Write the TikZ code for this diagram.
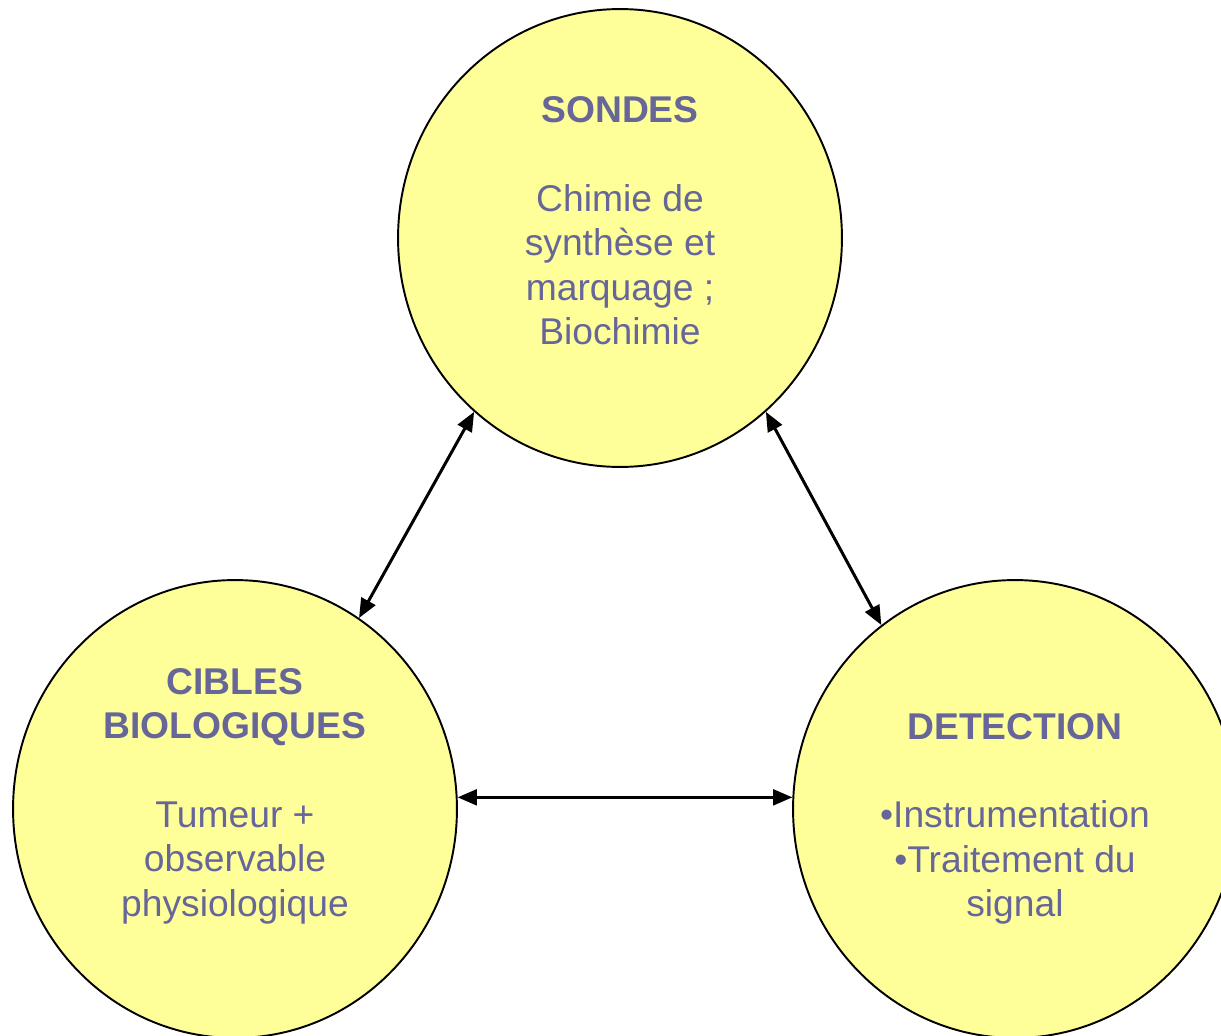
\documentclass[tikz,border=0pt]{standalone}
\usepackage{fontspec}
\setmainfont{Liberation Sans}
\usepackage{xcolor}
\usepackage{tikz}
\usetikzlibrary{positioning}
\usetikzlibrary{arrows.meta,shapes.geometric}
\definecolor{polefill}{HTML}{FFFF99}
\definecolor{poletext}{HTML}{666699}

\begin{document}
\begin{tikzpicture}[x=0.02cm,y=-0.02cm,<->,>={Triangle[length=11pt,width=9pt]},
                    line width=1.7pt,
                    pole/.style={ellipse,draw,fill=polefill,line width=1.1pt,
                                 minimum width=8.88cm,minimum height=9.16cm,inner sep=0pt},
                    poletxt/.style={text=poletext,align=center,
                                    font=\fontsize{21.2}{25.3}\selectfont}]
\clip (0,0) rectangle (1221,1035);
\node[pole] (sondes) at (620,238) {};
\node[pole] (cibles) at (235,809) {};
\node[pole] (detection) at (1015,809) {};
\node[poletxt] (sondestxt) at (620,221)
  {\textbf{SONDES}\\[25pt]Chimie de\\synthèse et\\marquage ;\\Biochimie};
\node[poletxt] (ciblestxt) at (235,796)
  {\textbf{CIBLES}\\\textbf{BIOLOGIQUES}\\[25pt]Tumeur +\\observable\\physiologique};
\node[poletxt] (detectiontxt) at (1015,819)
  {\textbf{DETECTION}\\[25pt]•Instrumentation\\•Traitement du\\signal};
\path (sondes.230) edge (cibles.57)
      (cibles.3) edge (detection.177)
      (detection.126) edge (sondes.310);
\end{tikzpicture}
\end{document}
